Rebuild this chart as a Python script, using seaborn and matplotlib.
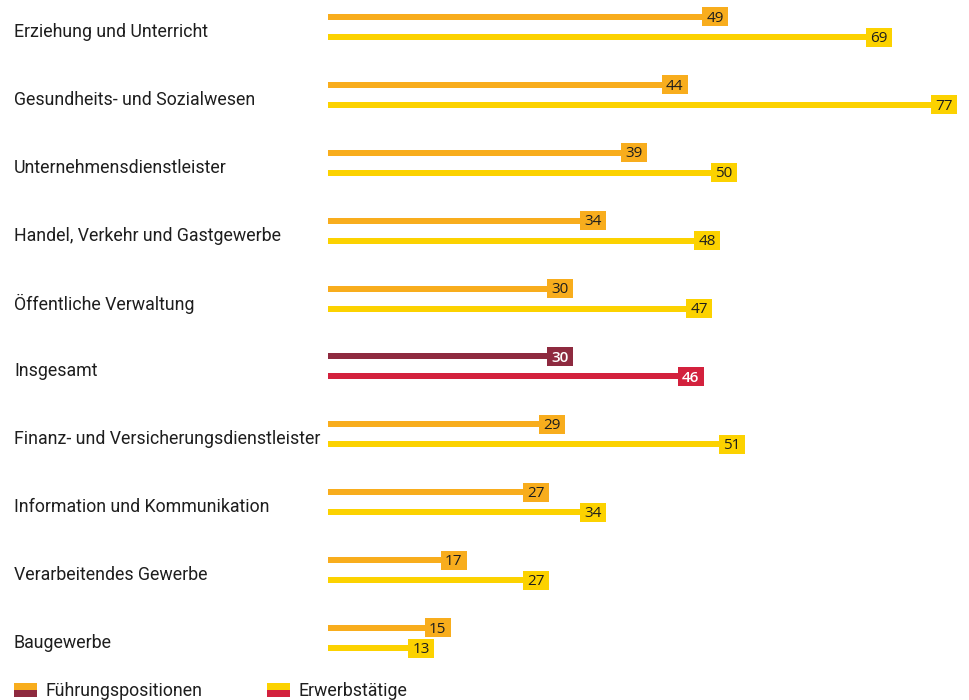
import matplotlib
matplotlib.use("Agg")
import matplotlib.pyplot as plt
from matplotlib.patches import Rectangle
import seaborn as sns
import pandas as pd

# Data
branchen = [
    "Erziehung und Unterricht",
    "Gesundheits- und Sozialwesen",
    "Unternehmensdienstleister",
    "Handel, Verkehr und Gastgewerbe",
    "Öffentliche Verwaltung",
    "Insgesamt",
    "Finanz- und Versicherungsdienstleister",
    "Information und Kommunikation",
    "Verarbeitendes Gewerbe",
    "Baugewerbe",
]
fuehrung = [49, 44, 39, 34, 30, 30, 29, 27, 17, 15]
erwerb = [69, 77, 50, 48, 47, 46, 51, 34, 27, 13]
serien = ["Führungspositionen", "Erwerbstätige"]

ORANGE = "#F8AD1D"
YELLOW = "#FCD200"
DARKRED = "#8E2A3F"
RED = "#D3213D"
TEXT = "#1E1E1E"

df = pd.DataFrame({
    "Branche": branchen * 2,
    "Anteil": fuehrung + erwerb,
    "Serie": [serien[0]] * len(branchen) + [serien[1]] * len(branchen),
})

sns.set_theme(style="white")
plt.rcParams["font.family"] = ["Roboto", "DejaVu Sans"]
LABEL_FONT = ["Roboto", "DejaVu Sans"]
VALUE_FONT = ["Open Sans", "DejaVu Sans"]

W, H = 970, 700
fig = plt.figure(figsize=(W / 100, H / 100), dpi=100)
ax_left, ax_right = 328, 960
ax_top, ax_bottom = 0, 672
ax = fig.add_axes([ax_left / W, 1 - ax_bottom / H,
                   (ax_right - ax_left) / W, (ax_bottom - ax_top) / H])

sns.barplot(data=df, x="Anteil", y="Branche", hue="Serie", order=branchen,
            hue_order=serien, orient="h", width=0.59, dodge=True,
            palette=[ORANGE, YELLOW], legend=False, ax=ax)

xmax = 77.35
ax.set_xlim(0, xmax)
px_per_unit_y = 67.9
ax.set_ylim(9 + 34 / px_per_unit_y, -27 / px_per_unit_y)

px_x = (ax_right - ax_left) / xmax
line_h = 6 / px_per_unit_y
box_w = 26 / px_x
box_h = 19 / px_per_unit_y

ins = branchen.index("Insgesamt")
for patch in ax.patches:
    yc = patch.get_y() + patch.get_height() / 2
    val = patch.get_width()
    top_row = yc < round(yc)
    row = int(round(yc))
    if row == ins:
        col = DARKRED if top_row else RED
        tcol = "white"
    else:
        col = ORANGE if top_row else YELLOW
        tcol = TEXT
    patch.set_facecolor(col)
    patch.set_edgecolor("none")
    patch.set_y(yc - line_h / 2)
    patch.set_height(line_h)
    ax.add_patch(Rectangle((val - box_w, yc - box_h / 2), box_w, box_h,
                           facecolor=col, edgecolor="none", zorder=3))
    ax.text(val - box_w / 2, yc + 1.2 / px_per_unit_y, f"{int(val)}",
            ha="center", va="center", fontsize=11, color=tcol, zorder=4,
            family=VALUE_FONT,
            fontweight="semibold" if tcol == "white" else "normal")

for side in ["top", "right", "bottom", "left"]:
    ax.spines[side].set_visible(False)
ax.set_xticks([])
ax.set_yticks([])
ax.set_xlabel("")
ax.set_ylabel("")

# Category labels, left aligned at the figure edge
trans = matplotlib.transforms.blended_transform_factory(fig.transFigure, ax.transData)
for i, name in enumerate(branchen):
    ax.text(14 / W, i + 5 / px_per_unit_y, name, transform=trans, ha="left",
            va="center", fontsize=12.8, color=TEXT, family=LABEL_FONT)

# Legend with split swatches
def swatch(x, c_top, c_bot, label):
    y0 = 683
    fig.patches.append(Rectangle((x / W, 1 - (y0 + 7) / H), 23 / W, 7 / H,
                                 facecolor=c_top, edgecolor="none",
                                 transform=fig.transFigure))
    fig.patches.append(Rectangle((x / W, 1 - (y0 + 14) / H), 23 / W, 7 / H,
                                 facecolor=c_bot, edgecolor="none",
                                 transform=fig.transFigure))
    fig.text((x + 32) / W, 1 - 696 / H, label, ha="left", va="baseline",
             fontsize=12.8, color=TEXT, family=LABEL_FONT)

swatch(14, ORANGE, DARKRED, serien[0])
swatch(267, YELLOW, RED, serien[1])

fig.savefig("out.png", dpi=100, facecolor="white")
